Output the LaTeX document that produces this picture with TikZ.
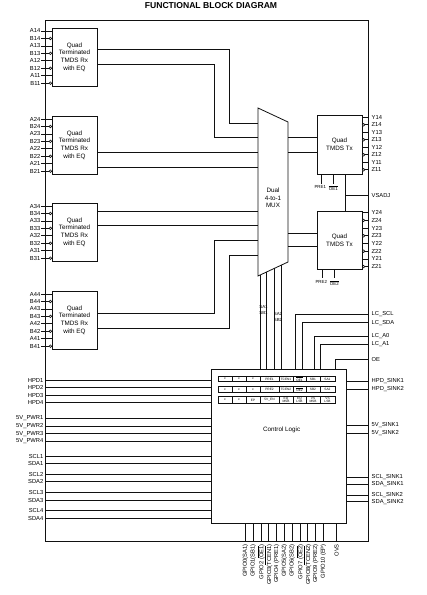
\documentclass[tikz,border=0pt]{standalone}
\usepackage{fontspec}
\setmainfont{Liberation Sans}
\usetikzlibrary{positioning, calc}
\definecolor{ink}{HTML}{111111}

\begin{document}
\begin{tikzpicture}[
  x=1pt, y=-1pt,
  wire/.style={draw=ink, line width=0.8pt},
  rxbox/.style={rectangle, draw=ink, line width=0.8pt, minimum width=45pt,
                minimum height=58pt, inner sep=0pt, outer sep=0pt,
                align=center, font=\fontsize{6.3}{7.7}\selectfont},
  txbox/.style={rxbox},
  sig/.style={inner sep=0.5pt, font=\fontsize{5.8}{6.4}\selectfont},
  lsig/.style={sig, anchor=east},
  rsig/.style={sig, anchor=west},
  tinysig/.style={inner sep=0pt, font=\fontsize{4.4}{4.8}\selectfont},
  cell/.style={rectangle, draw=ink, line width=0.6pt, inner sep=0pt, outer sep=0pt,
               align=center, font=\fontsize{3.2}{3.3}\selectfont},
  bubble/.style={circle, draw=ink, line width=0.6pt, fill=white,
                 inner sep=0pt, minimum size=2.6pt}
]
  \useasboundingbox (0,0) rectangle (427,595);

  \node[font=\bfseries\fontsize{8.6}{10}\selectfont] (title) at (211,6) {FUNCTIONAL BLOCK DIAGRAM};
  \node[draw=ink, line width=0.8pt, minimum width=323pt, minimum height=521pt,
        inner sep=0pt, outer sep=0pt] (frame) at (206.5,280.5) {};

  % receivers
  \foreach \k/\ty in {1/28,2/116,3/203,4/291} {
    \node[rxbox] (rx\k) at (74.5,\ty+29) {Quad\\Terminated\\TMDS Rx\\with EQ};
    \foreach \j in {4,3,2,1} {
      \pgfmathsetmacro\ya{\ty+3+7.45*2*(4-\j)}
      \pgfmathsetmacro\yb{\ya+7.45}
      \node[lsig] (a\k\j) at (41,\ya) {A\k\j};
      \node[lsig] (b\k\j) at (41,\yb) {B\k\j};
      \draw[wire] (a\k\j.east) -- (a\k\j.east -| rx\k.west);
      \draw[wire] (b\k\j.east) -- (b\k\j.east -| rx\k.west) node[bubble, pos=1, anchor=east] {};
    }
  }

  % mux
  \coordinate (mtl) at (258,108);
  \coordinate (mtr) at (288,122);
  \coordinate (mbr) at (288,262);
  \coordinate (mbl) at (258,276);
  \draw[wire] (mtl) -- (mtr) -- (mbr) -- (mbl) -- cycle;
  \node[align=center, font=\fontsize{6.3}{7.7}\selectfont] (mux) at (273,198) {Dual\\4-to-1\\MUX};

  \draw[wire] (rx1.east |- 0,49.7) -| (229,123) -- (mtl |- 0,123);
  \draw[wire] (rx1.east |- 0,64) -| (214,137) -- (mtl |- 0,137);
  \draw[wire] (rx2.east |- 0,152.5) -- (mtl |- 0,152.5);
  \draw[wire] (rx2.east |- 0,167) -- (mtl |- 0,167);
  \draw[wire] (rx3.east |- 0,211.5) -- (mtl |- 0,211.5);
  \draw[wire] (rx3.east |- 0,225) -- (mtl |- 0,225);
  \draw[wire] (rx4.east |- 0,313) -| (214,240.5) -- (mtl |- 0,240.5);
  \draw[wire] (rx4.east |- 0,328) -| (229,255) -- (mtl |- 0,255);

  % transmitters
  \node[txbox, minimum height=59pt] (tx1) at (339.5,144.5) {Quad\\TMDS Tx};
  \node[txbox, minimum height=57.5pt] (tx2) at (339.5,240.5) {Quad\\TMDS Tx};
  \foreach \yy/\k in {137/1,152.7/1,233/2,246.7/2}
    \draw[wire] (mtr |- 0,\yy) -- (tx\k.west |- 0,\yy);

  \foreach \k/\ys/\st in {1/117.3/7.5, 2/212.7/7.7} {
    \foreach \j in {4,3,2,1} {
      \pgfmathsetmacro\ya{\ys+\st*2*(4-\j)}
      \pgfmathsetmacro\yb{\ya+\st}
      \node[rsig] (y\k\j) at (371,\ya) {Y\k\j};
      \node[rsig] (z\k\j) at (371,\yb) {Z\k\j};
      \draw[wire] (tx\k.east |- y\k\j.west) -- (frame.east |- y\k\j.west);
      \draw[wire] (tx\k.east |- z\k\j.west) -- (frame.east |- z\k\j.west);
      \node[bubble, anchor=west] at (tx\k.east |- z\k\j.west) {};
    }
  }

  \draw[wire] (tx1.south -| 321.7,0) -- (321.7,184);
  \draw[wire] (tx1.south -| 333,0) -- (333,184);
  \node[tinysig, anchor=north] (pre1) at (320.3,185.5) {PRE1};
  \node[tinysig, anchor=north] (oe1) at (333.3,185.5) {$\overline{\mbox{OE1}}$};
  \draw[wire] (tx2.south -| 322.7,0) -- (322.7,278);
  \draw[wire] (tx2.south -| 334,0) -- (334,278);
  \node[tinysig, anchor=north] (pre2) at (321.3,280) {PRE2};
  \node[tinysig, anchor=north] (oe2) at (334.3,280) {$\overline{\mbox{OE2}}$};

  \coordinate (vs) at (345.7,195);
  \node[rsig] (vsadj) at (371,195) {VSADJ};
  \draw[wire] (tx1.south -| vs) -- (tx2.north -| vs);
  \draw[wire] (vs) -- (frame.east |- vsadj.west);

  % control logic
  \node[draw=ink, line width=0.8pt, minimum width=135pt, minimum height=154pt,
        inner sep=0pt, outer sep=0pt] (cl) at (278.5,446) {};
  \node[font=\fontsize{6.3}{7}\selectfont] (cltext) at (281.7,430) {Control Logic};

  \foreach \f [count=\i] in {0.09,0.29,0.543,0.767} {
    \coordinate (s\i) at ($(mbl)!\f!(mbr)$);
    \draw[wire] (s\i) -- (s\i |- cl.north);
  }
  \node[tinysig] (sa1) at (263.5,306.7) {SA1};
  \node[tinysig] (sb1) at (263.5,312.7) {SB1};
  \node[tinysig] (sa2) at (278,314) {SA2};
  \node[tinysig] (sb2) at (278,320) {SB2};

  \foreach \n/\yy/\xx/\txt in {lcscl/314.3/295.7/LC\_SCL, lcsda/322.7/302.3/LC\_SDA,
                              lca0/336/314.3/LC\_A0, lca1/344/320.7/LC\_A1, oe/359/335.3/OE} {
    \node[rsig] (\n) at (371,\yy) {\txt};
    \draw[wire] (frame.east |- \n.west) -| (cl.north -| \xx,0);
  }

  \foreach \n/\yy/\txt in {hs1/381/HPD\_SINK1, hs2/389.3/HPD\_SINK2,
                          vs1/425/5V\_SINK1, vs2/433.3/5V\_SINK2,
                          cs1/477.3/SCL\_SINK1, ds1/484/SDA\_SINK1,
                          cs2/495/SCL\_SINK2, ds2/501.7/SDA\_SINK2} {
    \node[rsig] (\n) at (371,\yy) {\txt};
    \draw[wire] (cl.east |- \n.west) -- (frame.east |- \n.west);
  }

  \foreach \n/\yy/\txt in {hpd1/380/HPD1, hpd2/387.7/HPD2, hpd3/395/HPD3, hpd4/402.3/HPD4,
                          pw1/418.3/5V\_PWR1, pw2/426/5V\_PWR2, pw3/433.7/5V\_PWR3, pw4/441.3/5V\_PWR4,
                          scl1/456/SCL1, sda1/463.3/SDA1, scl2/474.3/SCL2, sda2/481.7/SDA2,
                          scl3/492.7/SCL3, sda3/500/SDA3, scl4/510.7/SCL4, sda4/518.3/SDA4} {
    \node[lsig] (\n) at (44,\yy) {\txt};
    \draw[wire] (frame.west |- \n.east) -- (cl.west |- \n.east);
  }

  % register cells
  \foreach \xa/\xb/\txt [count=\c] in {218/232/x, 232/246/x, 246/260/x, 260/279/PRE1,
        279/293/TCEN1, 293/306/{$\overline{\mbox{OE1}}$}, 306/320/SB1, 320/335/SA1}
    \node[cell, minimum width={(\xb-\xa)*1pt}, minimum height=5.7pt] (ra\c) at ({(\xa+\xb)/2},378.9) {\txt};
  \foreach \xa/\xb/\txt [count=\c] in {218/232/x, 232/246/x, 246/260/x, 260/279/PRE2,
        279/293/TCEN2, 293/306/{$\overline{\mbox{OE2}}$}, 306/320/SB2, 320/335/SA2}
    \node[cell, minimum width={(\xb-\xa)*1pt}, minimum height=5.6pt] (rb\c) at ({(\xa+\xb)/2},389.5) {\txt};
  \foreach \xa/\xb/\txt [count=\c] in {218/232/x, 232/246/x, 246/260/EP, 260/279/5V\_EN,
        279/293/{EQ\\MSB}, 293/306/{EQ\\LSB}, 306/320/{VS\\MSB}, 320/335/{VS\\LSB}}
    \node[cell, minimum width={(\xb-\xa)*1pt}, minimum height=6.6pt] (rc\c) at ({(\xa+\xb)/2},400) {\txt};

  % gpio pins
  \foreach \txt [count=\i from 0] in {GPIO0(SA1), GPIO1(SB1), GPIO2 ($\overline{\mbox{OE1}}$),
        GPIO3($\overline{\mbox{TCEN1}}$), GPIO4 (PRE1), GPIO5(SA2), GPIO6(SB2),
        GPIO7 ($\overline{\mbox{OE2}}$), GPIO8($\overline{\mbox{TCEN2}}$), GPIO9 (PRE2), GPIO10 (EP)} {
    \pgfmathsetmacro\gx{245.3+7.8*\i}
    \node[sig, rotate=90, anchor=east] (g\i) at (\gx,543.5) {\txt};
    \draw[wire] (g\i.east |- cl.south) -- (g\i.east |- frame.south);
  }
  \node[sig, rotate=90, anchor=east] (ovs) at (336.7,543.5) {OVS};
  \draw[wire] (ovs.east |- cl.south) -- (ovs.east |- frame.south);
\end{tikzpicture}
\end{document}
